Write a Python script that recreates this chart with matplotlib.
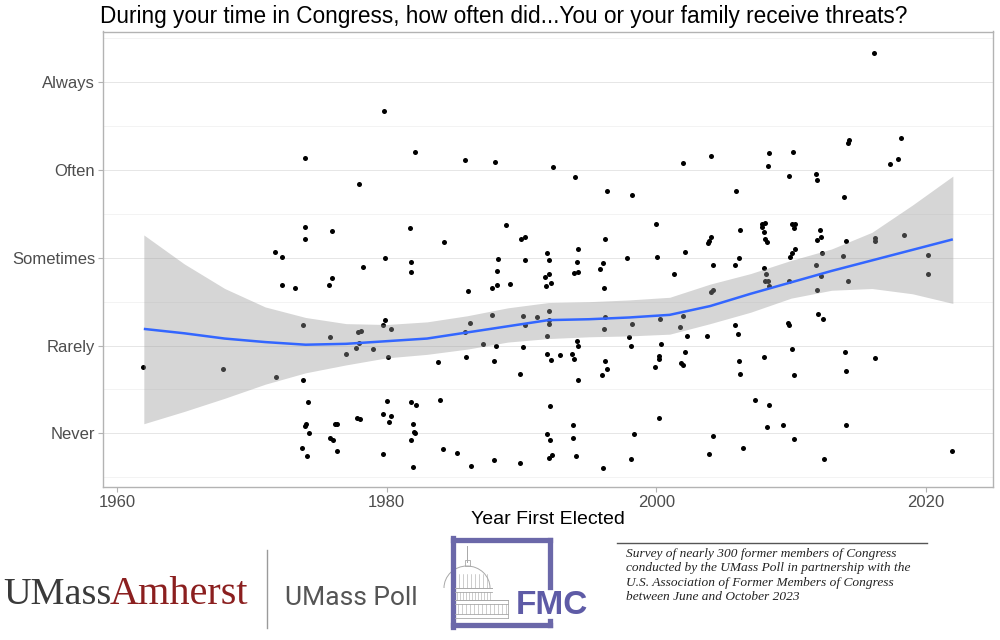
import matplotlib
matplotlib.use("Agg")
import matplotlib.pyplot as plt
from matplotlib.patches import Arc, Rectangle
import numpy as np

plt.rcParams['font.family'] = ['Liberation Sans', 'DejaVu Sans']

# ---------------- data (jittered positions) ----------------
years = [
    1979.84, 1973.93, 1977.99, 1973.98, 1975.98, 1973.93, 1971.71, 1972.27, 1979.90,
    1978.29, 1972.27, 1973.24, 1975.74, 1975.94, 1973.83, 1975.79, 1977.91, 1978.11, 1977.94,
    1979.77, 1979.92, 1980.32, 1976.98, 1977.77, 1979.03, 1980.10, 1961.91, 1967.87, 1971.83,
    1973.81, 1974.20, 1974.05, 1973.98, 1974.23, 1973.76, 1974.11, 1976.21, 1976.31, 1975.81,
    1976.04, 1976.31, 1977.84, 1978.02, 1980.02, 1979.77, 1980.32, 1980.17, 1979.77,
    1982.10, 1985.81, 1988.01, 1992.32, 1993.95, 1996.35, 1998.18, 2001.95, 1981.77, 1984.28,
    1988.83, 1989.99, 1990.29, 1991.92, 1994.17, 1996.21, 1999.96, 2002.15,
    1981.85, 1981.85, 1988.26, 1990.27, 1992.05, 1994.10, 1996.06, 1997.81, 2000.07, 1988.16,
    1992.05, 1991.75, 1993.93, 1994.22, 1995.86, 2001.30, 1986.06, 1987.84, 1988.21, 1989.18,
    1991.85, 1992.22, 1996.13, 1992.05, 1987.84, 1990.14, 1991.13, 1996.21, 2002.02, 1986.18,
    1990.29, 1992.05, 1992.05, 1998.18, 2000.31, 1985.81, 1996.13, 2001.80, 1991.92, 1997.96,
    2002.32, 1987.19, 1988.14, 1990.09, 1994.13, 1994.20, 1998.16, 2000.36, 2002.15, 1983.78,
    1985.89, 1987.97, 1991.92, 1992.17, 1992.89, 1993.78, 1993.93, 1996.21, 2000.22, 2000.22,
    1999.92, 2001.87, 2002.00, 1989.87, 1995.95, 1996.35, 1994.22, 1981.83, 1982.15, 1983.96,
    1992.09, 1982.00, 1982.03, 1982.12, 1981.85, 1991.90, 1992.09, 1993.80, 1993.80, 1998.36,
    2000.19, 1984.18, 1985.19, 1986.30, 1987.94, 1989.92, 1992.05, 1992.29, 1994.05, 1996.06,
    1998.16, 1982.00,
    2016.18, 2014.19, 2014.32, 2018.15, 2004.05, 2008.40, 2010.11, 2008.28, 2017.33, 2017.93,
    2009.87, 2011.87, 2011.89, 2005.95, 2013.90, 2007.81, 2007.86, 2008.05, 2008.01, 2010.09,
    2010.28, 2010.24, 2006.25, 2004.08, 2003.90, 2003.87, 2008.08, 2008.20, 2012.14, 2012.19,
    2011.92, 2014.10, 2016.25, 2016.25, 2018.40, 2010.28, 2010.04, 2009.94, 2012.29, 2013.88,
    2020.16, 2006.12,
    2004.19, 2005.86, 2008.01, 2008.13, 2008.05, 2008.28, 2008.35, 2009.87, 2011.84, 2012.19,
    2011.94, 2014.19, 2020.19, 2004.10, 2004.19, 2005.86, 2003.80, 2006.10, 2009.81, 2009.87,
    2011.99, 2012.39, 2010.06, 2008.01, 2013.97, 2016.25, 2006.15, 2006.18, 2010.19, 2014.07,
    2007.36, 2008.35, 2008.20, 2009.39, 2014.07, 2004.19, 2010.21, 2003.95, 2006.40, 2012.41,
    2021.94,
]

scores = [
    4.67, 4.14, 3.84, 3.35, 3.31, 3.21, 3.07, 3.01, 3.00,
    2.90, 2.69, 2.66, 2.69, 2.77, 2.23, 2.10, 2.15, 2.17, 2.03,
    2.23, 2.29, 2.19, 1.90, 1.97, 1.96, 1.87, 1.76, 1.73, 1.64,
    1.61, 1.36, 1.11, 1.08, 1.01, 0.83, 0.74, 1.11, 1.11, 0.95,
    0.92, 0.80, 1.18, 1.16, 1.37, 1.22, 1.20, 1.13, 0.76,
    4.21, 4.11, 4.09, 4.03, 3.92, 3.76, 3.71, 4.08, 3.34, 3.18,
    3.37, 3.21, 3.24, 3.06, 3.10, 3.21, 3.39, 3.07,
    2.95, 2.84, 2.99, 2.97, 2.98, 2.95, 2.94, 3.00, 3.01, 2.85,
    2.82, 2.78, 2.83, 2.84, 2.87, 2.82, 2.62, 2.66, 2.69, 2.70,
    2.68, 2.71, 2.66, 2.39, 2.35, 2.34, 2.33, 2.32, 2.34, 2.26,
    2.24, 2.29, 2.25, 2.25, 2.30, 2.16, 2.19, 2.21, 2.11, 2.10,
    2.11, 2.02, 2.00, 1.98, 2.05, 2.00, 2.00, 2.02, 1.93, 1.81,
    1.87, 1.82, 1.90, 1.84, 1.89, 1.90, 1.85, 1.83, 1.88, 1.85,
    1.76, 1.80, 1.78, 1.68, 1.67, 1.73, 1.61, 1.36, 1.32, 1.38,
    1.31, 1.11, 1.02, 1.01, 0.92, 0.99, 0.92, 1.09, 0.95, 0.99,
    1.17, 0.82, 0.78, 0.63, 0.70, 0.66, 0.72, 0.75, 0.74, 0.61,
    0.71, 0.62,
    5.33, 4.31, 4.34, 4.36, 4.16, 4.19, 4.20, 4.05, 4.07, 4.12,
    3.93, 3.95, 3.89, 3.76, 3.69, 3.38, 3.35, 3.40, 3.29, 3.38,
    3.38, 3.34, 3.32, 3.24, 3.19, 3.17, 3.21, 3.18, 3.32, 3.24,
    3.20, 3.19, 3.22, 3.19, 3.26, 3.10, 3.05, 3.01, 3.05, 3.02,
    3.03, 3.00,
    2.92, 2.92, 2.88, 2.82, 2.74, 2.74, 2.68, 2.74, 2.92, 2.79,
    2.63, 2.73, 2.82, 2.61, 2.63, 2.24, 2.11, 2.13, 2.26, 2.24,
    2.36, 2.30, 1.96, 1.87, 1.93, 1.86, 1.83, 1.68, 1.67, 1.71,
    1.38, 1.32, 1.07, 1.10, 1.09, 0.97, 0.94, 0.76, 0.83, 0.71,
    0.80,
]
assert len(years) == len(scores)

# smoothed trend (loess) and its confidence band
smooth_year = [1962, 1965, 1968, 1971, 1974, 1977, 1980, 1983, 1986, 1989, 1992,
               1995, 1998, 2001, 2004, 2007, 2010, 2013, 2016, 2019, 2022]
smooth_fit = [2.19, 2.14, 2.08, 2.04, 2.01, 2.02, 2.05, 2.08, 2.15, 2.22, 2.29,
              2.30, 2.32, 2.35, 2.45, 2.59, 2.72, 2.85, 2.97, 3.09, 3.21]
smooth_lo = [1.11, 1.25, 1.40, 1.56, 1.69, 1.78, 1.86, 1.90, 1.96, 2.04, 2.08,
             2.10, 2.11, 2.13, 2.25, 2.38, 2.54, 2.63, 2.65, 2.59, 2.48]
smooth_hi = [3.26, 2.93, 2.65, 2.44, 2.32, 2.25, 2.24, 2.27, 2.34, 2.43, 2.49,
             2.50, 2.52, 2.55, 2.70, 2.82, 2.97, 3.10, 3.29, 3.60, 3.93]

level_values = [1, 2, 3, 4, 5]
level_labels = ["Never", "Rarely", "Sometimes", "Often", "Always"]
minor_levels = [0.5, 1.5, 2.5, 3.5, 4.5, 5.5]
x_ticks = [1960, 1980, 2000, 2020]

title = "During your time in Congress, how often did...You or your family receive threats?"
x_label = "Year First Elected"
caption_lines = [
    "Survey of nearly 300 former members of Congress",
    "conducted by the UMass Poll in partnership with the",
    "U.S. Association of Former Members of Congress",
    "between June and October 2023",
]

# ---------------- figure ----------------
W, H = 1000, 640
fig = plt.figure(figsize=(W / 100, H / 100), dpi=100)
fig.patch.set_facecolor("white")

ax = fig.add_axes([102.7 / W, 1 - 487.3 / H, (993.3 - 102.7) / W, (487.3 - 31.5) / H])
ax.set_facecolor("white")

ax.scatter(years, scores, s=13, color="black", linewidths=0, zorder=2)
ax.fill_between(smooth_year, smooth_lo, smooth_hi, color="#999999", alpha=0.4,
                linewidth=0, zorder=3)
ax.plot(smooth_year, smooth_fit, color="#3366FF", lw=1.8, zorder=4,
        solid_capstyle="butt")

ax.set_xlim(1958.95, 2025.0)
ax.set_ylim(0.386, 5.577)
ax.set_xticks(x_ticks)
ax.set_xticklabels([str(t) for t in x_ticks])
ax.set_yticks(level_values)
ax.set_yticklabels(level_labels)
ax.set_yticks(minor_levels, minor=True)
ax.set_xticks([], minor=True)

ax.grid(axis="y", which="major", color="#e2e2e2", lw=0.6, zorder=0)
ax.grid(axis="y", which="minor", color="#ebebeb", lw=0.4, zorder=0)
ax.grid(axis="x", visible=False)
ax.set_axisbelow(True)

for sp in ax.spines.values():
    sp.set_color("#b3b3b3")
    sp.set_linewidth(1.0)
ax.tick_params(axis="both", which="major", color="#b3b3b3", length=3.5, width=0.8,
               labelsize=12, labelcolor="#4d4d4d", pad=2)
ax.tick_params(axis="both", which="minor", length=0)

# ---------------- overlay for titles, logos and caption ----------------
ov = fig.add_axes([0, 0, 1, 1], zorder=-1)
ov.set_xlim(0, W)
ov.set_ylim(H, 0)
ov.axis("off")

ov.text(100.5, 23, title, fontsize=16.3, color="black", ha="left", va="baseline")
ov.text(548, 519, x_label, fontsize=14, color="black", ha="center", va="center")

# UMass Amherst wordmark
ov.text(3, 604, "UMass", family=["Liberation Serif", "DejaVu Serif"], fontsize=27.5,
        color="#3a3a3a", ha="left", va="baseline")
ov.text(110, 604, "Amherst", family=["Liberation Serif", "DejaVu Serif"], fontsize=29,
        color="#8b1f1f", ha="left", va="baseline")
ov.plot([267, 267], [550, 628], color="#9a9a9a", lw=1.0)
ov.text(285, 605, "UMass Poll", family=["Roboto", "DejaVu Sans"], fontsize=19,
        color="#555555", ha="left", va="baseline")

# FMC logo frame
purple = "#6b68a9"
ov.plot([453, 453], [538, 627], color=purple, lw=3.8, solid_capstyle="projecting")
ov.plot([453, 550], [540, 540], color=purple, lw=3.8, solid_capstyle="projecting")
ov.plot([453, 550], [625, 625], color=purple, lw=3.8, solid_capstyle="projecting")
ov.plot([550, 550], [540, 587], color=purple, lw=3.8, solid_capstyle="projecting")
ov.plot([550, 550], [621, 625], color=purple, lw=3.8, solid_capstyle="projecting")
ov.text(552, 606, "FMC", fontsize=24, fontweight="bold", color="#5e5ba6",
        ha="center", va="center")

# capitol sketch inside the frame
gray = "#a8a8a8"
ov.plot([467, 467], [546, 562], color=gray, lw=0.7)
ov.add_patch(Rectangle((464.5, 560), 5, 6, fill=False, ec=gray, lw=0.6))
ov.add_patch(Arc((467, 588), 46, 44, theta1=180, theta2=360, ec=gray, lw=0.7))
for xx in [459, 463, 467, 471, 475, 479, 483, 487]:
    ov.plot([xx, xx], [574, 588], color=gray, lw=0.4)
ov.plot([455, 492], [588, 588], color=gray, lw=0.7)
ov.plot([455, 492], [592, 592], color=gray, lw=0.6)
for xx in np.arange(457, 492, 3):
    ov.plot([xx, xx], [592, 600], color=gray, lw=0.4)
ov.plot([455, 508], [600, 600], color=gray, lw=0.7)
ov.plot([455, 508], [604, 604], color=gray, lw=0.6)
for xx in np.arange(458, 508, 4):
    ov.plot([xx, xx], [604, 614], color=gray, lw=0.4)
ov.plot([455, 508], [614, 614], color=gray, lw=0.6)
ov.plot([455, 508], [618, 618], color=gray, lw=0.6)
ov.plot([508, 508], [600, 618], color=gray, lw=0.6)

# caption
ov.plot([617, 927], [543, 543], color="#555555", lw=1.0)
for i, line in enumerate(caption_lines):
    ov.text(626, 554 + i * 14.5, line, family=["Liberation Serif", "DejaVu Serif"],
            style="italic", fontsize=9.6, color="#222222", ha="left", va="center")

fig.savefig("out.png", dpi=100, facecolor="white")
